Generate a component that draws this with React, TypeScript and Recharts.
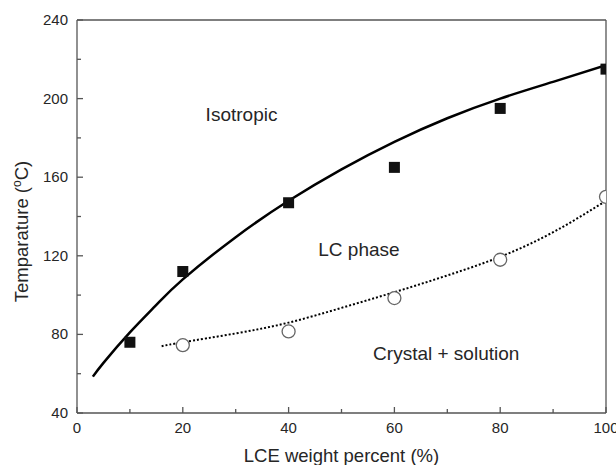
import {
  ComposedChart,
  Line,
  Scatter,
  XAxis,
  YAxis,
  ReferenceLine,
  ReferenceDot,
  Label,
} from 'recharts';

// Measured phase boundaries (LCE wt% vs temperature in °C)
const clearingWt = [10, 20, 40, 60, 80, 100];
const clearingTemp = [76, 112, 147, 165, 195, 215];

const meltingWt = [20, 40, 60, 80, 100];
const meltingTemp = [74.5, 81.5, 98.5, 118, 150];

// Fitted boundary curves
const clearingFitWt = [3, 5, 10, 15, 20, 30, 40, 50, 60, 70, 80, 90, 100];
const clearingFitTemp = [58.5, 65.5, 81, 95, 108, 129.5, 148, 164, 178, 190, 200, 208.5, 217];

const meltingFitWt = [16, 20, 30, 40, 50, 60, 70, 80, 90, 100];
const meltingFitTemp = [74, 76, 80.5, 86, 93.5, 101.5, 110, 119.5, 132, 148];

const xTicks = [0, 10, 20, 30, 40, 50, 60, 70, 80, 90, 100];
const yTicks = [40, 60, 80, 100, 120, 140, 160, 180, 200, 220, 240];

const regionLabels = [
  { text: 'Isotropic', wt: 31.1, temp: 192.2 },
  { text: 'LC phase', wt: 53.3, temp: 123.1 },
  { text: 'Crystal + solution', wt: 69.8, temp: 70.4 },
];

const FONT = '"Liberation Sans", Arial, sans-serif';
const AXIS = '#555';
const TEXT = '#262626';

const toPoints = (xs: number[], ys: number[]) => xs.map((x, i) => ({ x, y: ys[i] }));

const clearingData = toPoints(clearingWt, clearingTemp);
const meltingData = toPoints(meltingWt, meltingTemp);
const clearingFit = toPoints(clearingFitWt, clearingFitTemp);
const meltingFit = toPoints(meltingFitWt, meltingFitTemp);

const XTick = ({ x, y, payload }: any) => {
  const major = payload.value % 20 === 0;
  return (
    <g>
      <line x1={x} x2={x} y1={y} y2={y - (major ? 6 : 4)} stroke={AXIS} strokeWidth={1.3} />
      {major && (
        <text x={x} y={y + 20} textAnchor="middle" fontSize={15} fill={TEXT} fontFamily={FONT}>
          {payload.value}
        </text>
      )}
    </g>
  );
};

const YTick = ({ x, y, payload }: any) => {
  const major = payload.value % 40 === 0;
  return (
    <g>
      <line x1={x} x2={x + (major ? 6 : 4)} y1={y} y2={y} stroke={AXIS} strokeWidth={1.3} />
      {major && (
        <text x={x - 9} y={y + 5} textAnchor="end" fontSize={15} fill={TEXT} fontFamily={FONT}>
          {payload.value}
        </text>
      )}
    </g>
  );
};

const XTitle = ({ viewBox }: any) => (
  <text
    x={viewBox.x + viewBox.width / 2}
    y={viewBox.y + 49}
    textAnchor="middle"
    fontSize={18.5}
    fill={TEXT}
    fontFamily={FONT}
  >
    LCE weight percent (%)
  </text>
);

const YTitle = ({ viewBox }: any) => {
  const cx = viewBox.x + 28;
  const cy = viewBox.y + viewBox.height / 2 + 15;
  return (
    <text
      x={cx}
      y={cy}
      transform={`rotate(-90, ${cx}, ${cy})`}
      textAnchor="middle"
      fontSize={18.5}
      fill={TEXT}
      fontFamily={FONT}
    >
      Temparature (
      <tspan dy={-7} fontSize={12}>
        o
      </tspan>
      <tspan dy={7}>C)</tspan>
    </text>
  );
};

const FilledSquare = ({ cx, cy }: any) => (
  <rect x={cx - 5.5} y={cy - 5.5} width={11} height={11} fill="#111" />
);

const OpenCircle = ({ cx, cy }: any) => (
  <circle cx={cx} cy={cy} r={6.5} fill="#fff" stroke="#666" strokeWidth={1.3} />
);

export default function App() {
  return (
    <div style={{ position: 'absolute', left: 0, top: 0, background: '#fff' }}>
      <ComposedChart
        width={616}
        height={465}
        margin={{ top: 20, right: 10, left: 0, bottom: 0 }}
        style={{ fontFamily: FONT }}
      >
        <XAxis
          type="number"
          dataKey="x"
          domain={[0, 100]}
          ticks={xTicks}
          interval={0}
          allowDataOverflow
          height={52}
          tickSize={0}
          tickMargin={0}
          tickLine={false}
          tick={<XTick />}
          axisLine={{ stroke: AXIS, strokeWidth: 1.3 }}
        >
          <Label content={(p: any) => <XTitle {...p} />} />
        </XAxis>
        <YAxis
          type="number"
          dataKey="y"
          domain={[40, 240]}
          ticks={yTicks}
          interval={0}
          allowDataOverflow
          width={77}
          tickSize={0}
          tickMargin={0}
          tickLine={false}
          tick={<YTick />}
          axisLine={{ stroke: AXIS, strokeWidth: 1.3 }}
        >
          <Label content={(p: any) => <YTitle {...p} />} />
        </YAxis>

        <Line
          data={clearingFit}
          dataKey="y"
          type="natural"
          stroke="#000"
          strokeWidth={2.5}
          dot={false}
          activeDot={false}
          isAnimationActive={false}
        />
        <Line
          data={meltingFit}
          dataKey="y"
          type="natural"
          stroke="#000"
          strokeWidth={2}
          strokeDasharray="2 2"
          dot={false}
          activeDot={false}
          isAnimationActive={false}
        />
        <Scatter data={clearingData} dataKey="y" shape={<FilledSquare />} isAnimationActive={false} />
        <Scatter data={meltingData} dataKey="y" shape={<OpenCircle />} isAnimationActive={false} />

        <ReferenceLine y={240} stroke={AXIS} strokeWidth={1.3} />
        <ReferenceLine x={100} stroke={AXIS} strokeWidth={1.3} />

        {regionLabels.map((r) => (
          <ReferenceDot
            key={r.text}
            x={r.wt}
            y={r.temp}
            r={0}
            fill="none"
            stroke="none"
            label={{ value: r.text, position: 'center', fontSize: 19, fill: TEXT, fontFamily: FONT }}
          />
        ))}
      </ComposedChart>
    </div>
  );
}
